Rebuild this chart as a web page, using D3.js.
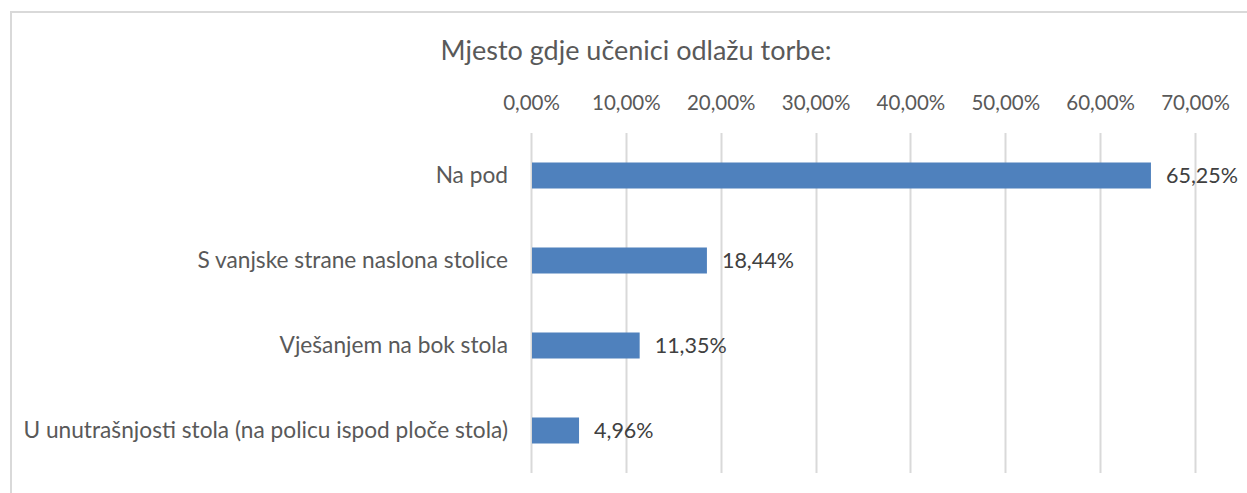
<!DOCTYPE html>
<html>
<head>
<meta charset="utf-8">
<script src="https://cdn.jsdelivr.net/npm/d3@7"></script>
<style>
  html, body { margin: 0; padding: 0; background: #fff; }
  svg { display: block; font-family: Lato, "Open Sans", sans-serif; }
</style>
</head>
<body>
<svg id="chart" width="1247" height="493"></svg>
<script>
const categories = [
  "Na pod",
  "S vanjske strane naslona stolice",
  "Vješanjem na bok stola",
  "U unutrašnjosti stola (na policu ispod ploče stola)"
];
const values = [65.25, 18.44, 11.35, 4.96];
const tickValues = [0, 10, 20, 30, 40, 50, 60, 70];
const title = "Mjesto gdje učenici odlažu torbe:";

const fmt = v => v.toFixed(2).replace(".", ",") + "%";

const svg = d3.select("#chart");
const textColor = "#595959";

// chart frame
svg.append("rect")
  .attr("x", 11).attr("y", 12)
  .attr("width", 1247).attr("height", 500)
  .attr("fill", "none")
  .attr("stroke", "#d9d9d9")
  .attr("stroke-width", 2);

const plotLeft = 531, plotTop = 133, plotBottom = 473;
const x = d3.scaleLinear().domain([0, 70]).range([plotLeft, 1195]);
const y = d3.scaleBand().domain(categories).range([plotTop, plotBottom]).paddingInner(0.694).paddingOuter(0.347);

// title
svg.append("text")
  .attr("x", 636).attr("y", 60)
  .attr("text-anchor", "middle")
  .attr("fill", textColor)
  .attr("font-size", 27)
  .text(title);

// gridlines
svg.append("g")
  .selectAll("line")
  .data(tickValues)
  .join("line")
  .attr("x1", d => Math.round(x(d)) + 0.5)
  .attr("x2", d => Math.round(x(d)) + 0.5)
  .attr("y1", plotTop).attr("y2", plotBottom)
  .attr("stroke", "#d9d9d9")
  .attr("stroke-width", 2);

// top axis labels
const axis = d3.axisTop(x).tickValues(tickValues).tickFormat(fmt).tickSize(0).tickPadding(0);
const gAxis = svg.append("g").attr("transform", "translate(0,110)").call(axis);
gAxis.select(".domain").remove();
gAxis.selectAll("text")
  .attr("fill", textColor)
  .attr("font-size", 20.5)
  .attr("font-family", "Lato, 'Open Sans', sans-serif");

// category labels
const band = y.bandwidth();
svg.append("g")
  .selectAll("text")
  .data(categories)
  .join("text")
  .attr("x", 508)
  .attr("y", d => y(d) + band / 2)
  .attr("dy", "0.35em")
  .attr("text-anchor", "end")
  .attr("fill", textColor)
  .attr("font-size", 22.7)
  .text(d => d);

// bars
svg.append("g")
  .selectAll("rect")
  .data(values)
  .join("rect")
  .attr("x", x(0) + 1)
  .attr("y", (d, i) => y(categories[i]))
  .attr("width", d => x(d) - x(0))
  .attr("height", band)
  .attr("fill", "#4f81bd");

// value labels
svg.append("g")
  .selectAll("text")
  .data(values)
  .join("text")
  .attr("x", d => x(d) + 16)
  .attr("y", (d, i) => y(categories[i]) + band / 2)
  .attr("dy", "0.35em")
  .attr("fill", "#404040")
  .attr("font-size", 21.5)
  .text(d => fmt(d));
</script>
</body>
</html>
